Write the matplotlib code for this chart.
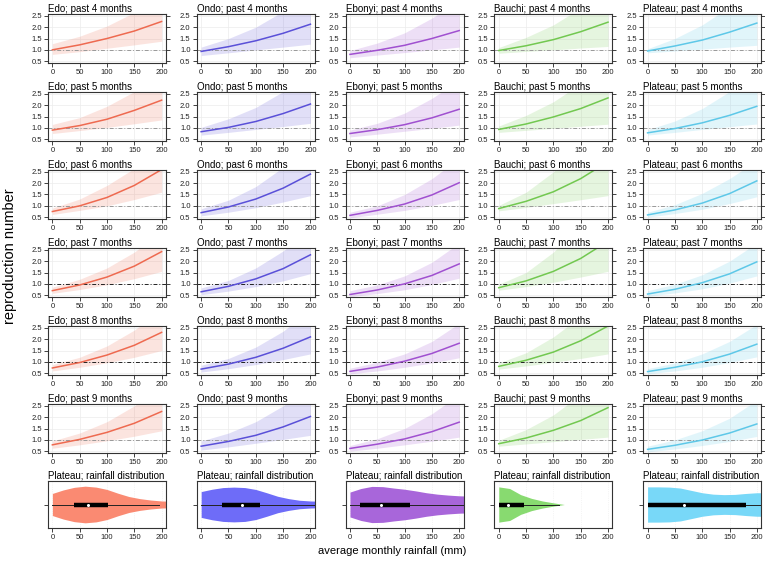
"""Rainfall vs reproduction number panels, one column per state."""
import matplotlib
matplotlib.use("Agg")
import matplotlib.pyplot as plt
import numpy as np

plt.rcParams["font.family"] = ["Liberation Sans", "DejaVu Sans"]

states = ["Edo", "Ondo", "Ebonyi", "Bauchi", "Plateau"]
months = [4, 5, 6, 7, 8, 9]
x_rain = [0, 50, 100, 150, 200]

# mean curve / lower / upper of the band, one row per "past N months"
edo_mean = [[1.0, 1.22, 1.5, 1.83, 2.25], [0.9, 1.1, 1.38, 1.77, 2.22], [0.75, 1.0, 1.37, 1.9, 2.6],
            [0.7, 0.95, 1.3, 1.78, 2.42], [0.73, 0.97, 1.3, 1.73, 2.3], [0.78, 1.02, 1.33, 1.73, 2.25]]
edo_lo = [[0.8, 0.92, 1.07, 1.22, 1.38], [0.75, 0.88, 1.02, 1.18, 1.35], [0.62, 0.8, 1.0, 1.28, 1.6],
          [0.58, 0.75, 0.96, 1.23, 1.55], [0.6, 0.76, 0.96, 1.2, 1.5], [0.63, 0.78, 0.96, 1.16, 1.4]]
edo_hi = [[1.27, 1.6, 2.05, 2.65, 3.4], [1.15, 1.45, 1.95, 2.6, 3.4], [0.9, 1.3, 1.9, 2.65, 3.6],
          [0.85, 1.2, 1.7, 2.4, 3.3], [0.88, 1.2, 1.7, 2.4, 3.3], [0.95, 1.3, 1.8, 2.5, 3.4]]

ondo_mean = [[0.93, 1.14, 1.4, 1.73, 2.13], [0.83, 1.02, 1.28, 1.63, 2.05], [0.7, 0.95, 1.3, 1.78, 2.4],
             [0.65, 0.89, 1.22, 1.67, 2.28], [0.68, 0.9, 1.2, 1.6, 2.1], [0.72, 0.93, 1.2, 1.57, 2.03]]
ondo_lo = [[0.75, 0.87, 1.0, 1.12, 1.25], [0.68, 0.8, 0.93, 1.06, 1.2], [0.56, 0.72, 0.92, 1.17, 1.45],
           [0.52, 0.68, 0.88, 1.13, 1.45], [0.55, 0.7, 0.88, 1.1, 1.35], [0.55, 0.69, 0.85, 1.02, 1.2]]
ondo_hi = [[1.12, 1.5, 2.0, 2.7, 3.5], [1.02, 1.4, 1.9, 2.6, 3.4], [0.87, 1.25, 1.85, 2.7, 3.8],
           [0.82, 1.15, 1.7, 2.45, 3.4], [0.85, 1.15, 1.65, 2.35, 3.3], [0.95, 1.3, 1.8, 2.5, 3.4]]

ebonyi_mean = [[0.8, 0.98, 1.2, 1.5, 1.85], [0.75, 0.92, 1.14, 1.44, 1.82], [0.58, 0.8, 1.08, 1.48, 2.02],
               [0.53, 0.73, 1.0, 1.37, 1.88], [0.58, 0.77, 1.03, 1.37, 1.82], [0.62, 0.81, 1.04, 1.36, 1.78]]
ebonyi_lo = [[0.65, 0.77, 0.88, 1.0, 1.12], [0.6, 0.72, 0.85, 0.98, 1.12], [0.47, 0.63, 0.8, 1.02, 1.28],
             [0.43, 0.57, 0.74, 0.97, 1.25], [0.47, 0.6, 0.76, 0.95, 1.18], [0.5, 0.63, 0.78, 0.94, 1.12]]
ebonyi_hi = [[0.97, 1.3, 1.75, 2.4, 3.2], [0.9, 1.2, 1.65, 2.3, 3.1], [0.72, 1.0, 1.5, 2.2, 3.1],
             [0.7, 0.95, 1.35, 1.95, 2.8], [0.72, 0.98, 1.35, 1.9, 2.7], [0.75, 1.05, 1.5, 2.15, 3.0]]

bauchi_mean = [[0.97, 1.18, 1.45, 1.8, 2.22], [0.93, 1.17, 1.48, 1.85, 2.32], [0.88, 1.2, 1.62, 2.2, 2.95],
               [0.83, 1.13, 1.55, 2.12, 2.88], [0.8, 1.07, 1.43, 1.93, 2.58], [0.83, 1.08, 1.42, 1.85, 2.42]]
bauchi_lo = [[0.85, 0.93, 1.0, 1.08, 1.15], [0.8, 0.89, 0.98, 1.07, 1.16], [0.78, 0.93, 1.1, 1.27, 1.45],
             [0.72, 0.88, 1.07, 1.3, 1.55], [0.68, 0.82, 0.98, 1.15, 1.35], [0.72, 0.82, 0.92, 1.02, 1.12]]
bauchi_hi = [[1.1, 1.55, 2.1, 2.85, 3.8], [1.08, 1.55, 2.15, 2.95, 4.0], [1.02, 1.6, 2.5, 3.6, 5.0],
             [0.98, 1.5, 2.4, 3.6, 5.0], [0.95, 1.4, 2.1, 3.0, 4.2], [0.98, 1.45, 2.1, 3.0, 4.2]]

plateau_mean = [[0.95, 1.17, 1.43, 1.78, 2.18], [0.78, 0.97, 1.22, 1.55, 1.95], [0.6, 0.82, 1.12, 1.54, 2.1],
                [0.55, 0.76, 1.05, 1.44, 1.97], [0.57, 0.76, 1.0, 1.34, 1.78], [0.58, 0.76, 0.99, 1.3, 1.7]]
plateau_lo = [[0.87, 0.95, 1.03, 1.12, 1.2], [0.68, 0.8, 0.93, 1.05, 1.17], [0.5, 0.66, 0.85, 1.1, 1.4],
              [0.45, 0.6, 0.78, 1.03, 1.35], [0.47, 0.6, 0.76, 0.97, 1.22], [0.47, 0.6, 0.75, 0.93, 1.15]]
plateau_hi = [[1.05, 1.5, 2.1, 2.9, 3.9], [0.92, 1.3, 1.85, 2.6, 3.5], [0.72, 1.05, 1.55, 2.2, 3.0],
              [0.7, 0.98, 1.4, 2.0, 2.8], [0.7, 0.95, 1.35, 1.9, 2.65], [0.72, 1.0, 1.4, 1.95, 2.75]]

# violin half-widths along rainfall, plus box stats (whisker lo, q1, median, q3, whisker hi)
x_violin = [0, 20, 40, 60, 80, 100, 120, 140, 160, 180, 200, 215]
edo_violin = [0.47, 0.62, 0.73, 0.78, 0.74, 0.64, 0.48, 0.34, 0.25, 0.19, 0.15, 0.14]
ondo_violin = [0.55, 0.65, 0.72, 0.74, 0.72, 0.64, 0.5, 0.35, 0.25, 0.18, 0.15, 0.14]
ebonyi_violin = [0.53, 0.68, 0.77, 0.76, 0.7, 0.65, 0.58, 0.5, 0.44, 0.4, 0.37, 0.36]
bauchi_violin = [0.75, 0.68, 0.42, 0.26, 0.15, 0.07, 0.0, 0.0, 0.0, 0.0, 0.0, 0.0]
plateau_violin = [0.75, 0.75, 0.74, 0.7, 0.6, 0.5, 0.44, 0.42, 0.43, 0.47, 0.5, 0.5]
edo_box = [0, 40, 65, 102, 195]
ondo_box = [0, 38, 75, 108, 215]
ebonyi_box = [0, 18, 57, 110, 215]
bauchi_box = [0, 1, 16, 46, 111]
plateau_box = [0, 1, 66, 180, 215]

line_col = ["#EE6A50", "#5A50D8", "#A050D0", "#72C850", "#5EC8E8"]
violin_col = ["#FA8A72", "#6E6CF8", "#A866DA", "#88DA70", "#78D8F8"]

means = [edo_mean, ondo_mean, ebonyi_mean, bauchi_mean, plateau_mean]
lows = [edo_lo, ondo_lo, ebonyi_lo, bauchi_lo, plateau_lo]
highs = [edo_hi, ondo_hi, ebonyi_hi, bauchi_hi, plateau_hi]
violins = [edo_violin, ondo_violin, ebonyi_violin, bauchi_violin, plateau_violin]
boxes = [edo_box, ondo_box, ebonyi_box, bauchi_box, plateau_box]

W, H = 765, 566
fig = plt.figure(figsize=(W / 100, H / 100), dpi=100)


def px_axes(left, top, w, h):
    return fig.add_axes([left / W, 1 - (top + h) / H, w / W, h / H])


def style(ax):
    for s in ax.spines.values():
        s.set_linewidth(0.8)
        s.set_color("#333333")
    ax.tick_params(direction="out", length=3, width=0.6, labelsize=5.5, pad=1.5,
                   colors="#222222")
    ax.set_xlim(-8, 208)
    ax.set_xticks([0, 50, 100, 150, 200])
    ax.set_axisbelow(True)


for c, st in enumerate(states):
    left = 48 + 148.8 * c
    for r, m in enumerate(months):
        ax = px_axes(left, 14 + 78 * r, 118, 49)
        style(ax)
        ax.grid(True, color="#ececec", lw=0.5)
        ax.fill_between(x_rain, lows[c][r], highs[c][r], color=line_col[c], alpha=0.18, lw=0)
        refc = "#222222" if m in (7, 8) else "#999999"
        ax.axhline(1.0, color=refc, lw=0.7, ls=(0, (4, 2, 1, 2)))
        ax.plot(x_rain, means[c][r], color=line_col[c], lw=1.1)
        ax.set_ylim(0.42, 2.58)
        ax.set_yticks([0.5, 1.0, 1.5, 2.0, 2.5])
        ax.set_yticklabels(["0.5", "1.0", "1.5", "2.0", "2.5"])
        ax.tick_params(axis="y", right=True)
        ax.set_title(f"{st}; past {m} months", loc="left", fontsize=7, pad=1.5)

    # rainfall distribution violin
    ax = px_axes(left, 481, 118, 47)
    style(ax)
    ax.grid(True, axis="x", color="#ececec", lw=0.5, ls=":")
    w = np.array(violins[c])
    ax.fill_between(x_violin, -w, w, color=violin_col[c], lw=0)
    lo, q1, med, q3, hi = boxes[c]
    ax.plot([lo, hi], [0, 0], color="#222222", lw=0.7)
    ax.plot([q1, q3], [0, 0], color="black", lw=3.2, solid_capstyle="butt")
    ax.plot([med], [0], "o", color="white", ms=2.2, mew=0)
    ax.set_ylim(-1, 1)
    ax.set_yticks([0])
    ax.set_yticklabels([""])
    ax.set_title("Plateau; rainfall distribution", loc="left", fontsize=7, pad=1.5)

fig.text(10 / W, 1 - 256 / H, "reproduction number", rotation=90, ha="center", va="center",
         fontsize=10.5)
fig.text(392 / W, 1 - 551 / H, "average monthly rainfall (mm)", ha="center", va="center",
         fontsize=8)

fig.savefig("out.png", dpi=100, facecolor="white")
